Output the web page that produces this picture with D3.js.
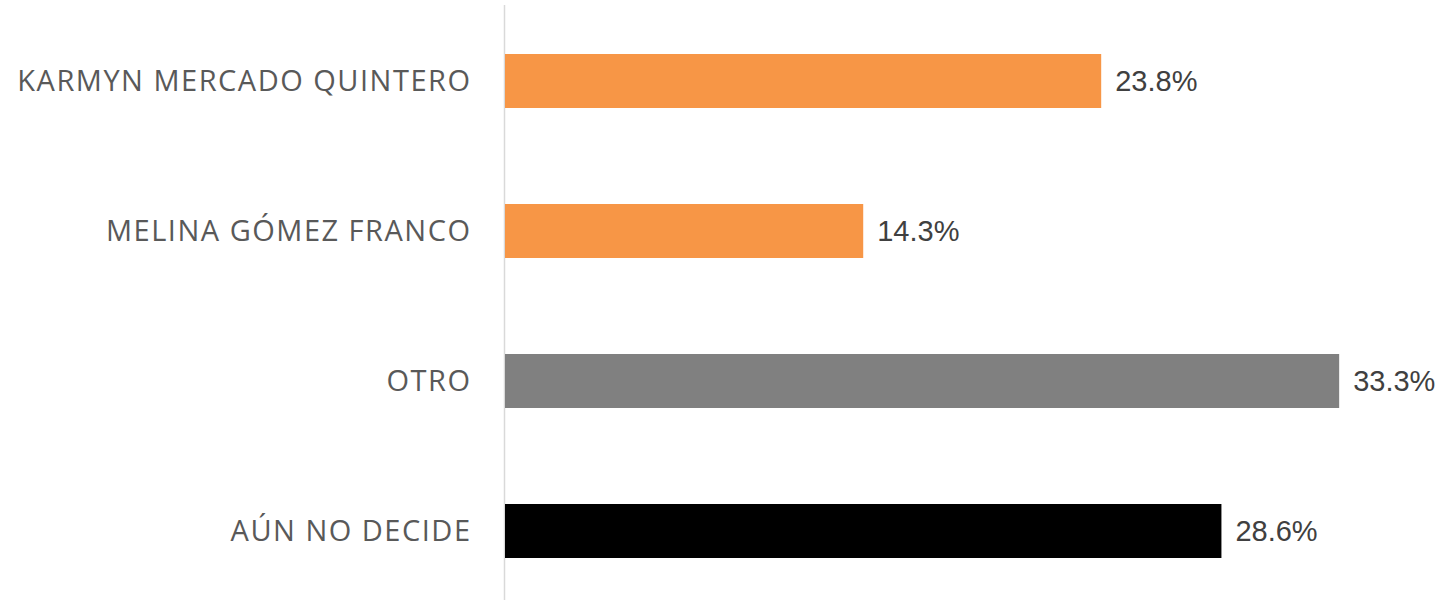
<!DOCTYPE html>
<html>
<head>
<meta charset="utf-8">
<script src="https://cdn.jsdelivr.net/npm/d3@7"></script>
<style>
html,body{margin:0;padding:0;background:#fff;}
</style>
</head>
<body>
<svg id="chart" width="1445" height="600"></svg>
<script>
const categories = ["KARMYN MERCADO QUINTERO", "MELINA GÓMEZ FRANCO", "OTRO", "AÚN NO DECIDE"];
const values = [23.8, 14.3, 33.3, 28.6];
const valueLabels = ["23.8%", "14.3%", "33.3%", "28.6%"];
const colors = ["#F79646", "#F79646", "#808080", "#000000"];

const svg = d3.select("#chart");
const x = d3.scaleLinear().domain([0, 40]).range([505, 1507]);
const y = d3.scaleBand().domain(categories).range([6, 606]).paddingInner(0.64).paddingOuter(0.32);

svg.append("line")
  .attr("x1", 504.5).attr("x2", 504.5)
  .attr("y1", 5).attr("y2", 600)
  .attr("stroke", "#d9d9d9").attr("stroke-width", 1.5);

svg.selectAll("rect.bar").data(categories).join("rect")
  .attr("class", "bar")
  .attr("x", x(0))
  .attr("y", d => y(d))
  .attr("width", (d, i) => x(values[i]) - x(0))
  .attr("height", y.bandwidth())
  .attr("fill", (d, i) => colors[i]);

svg.selectAll("text.cat").data(categories).join("text")
  .attr("class", "cat")
  .attr("x", 471.5)
  .attr("y", d => y(d) + y.bandwidth() / 2)
  .attr("dy", "0.35em")
  .attr("text-anchor", "end")
  .attr("font-family", "'Open Sans', sans-serif")
  .attr("font-size", 29)
  .attr("letter-spacing", "1.5px")
  .attr("fill", "#595959")
  .text(d => d);

svg.selectAll("text.val").data(categories).join("text")
  .attr("class", "val")
  .attr("x", (d, i) => x(values[i]) + 14)
  .attr("y", d => y(d) + y.bandwidth() / 2)
  .attr("dy", "0.36em")
  .attr("font-family", "'Liberation Sans', Arial, sans-serif")
  .attr("font-size", 29)
  .attr("fill", "#404040")
  .text((d, i) => valueLabels[i]);
</script>
</body>
</html>
